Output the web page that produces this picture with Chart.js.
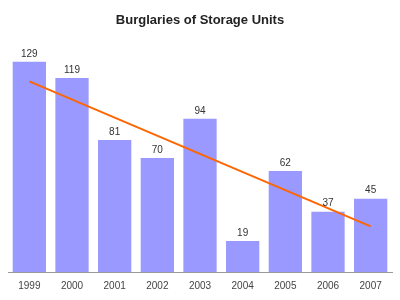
<!DOCTYPE html>
<html>
<head>
<meta charset="utf-8">
<script src="https://cdn.jsdelivr.net/npm/chart.js@4"></script>
<style>
html,body{margin:0;padding:0;background:#fff;}
#wrap{width:400px;height:300px;}
</style>
</head>
<body>
<div id="wrap"><canvas id="c" width="400" height="300"></canvas></div>
<script>
const years = ["1999","2000","2001","2002","2003","2004","2005","2006","2007"];
const burglaries = [129,119,81,70,94,19,62,37,45];
const trend = [117,null,null,null,null,null,null,null,28];

const valueLabels = {
  id:'valueLabels',
  afterDatasetsDraw(chart){
    const ctx = chart.ctx;
    const meta = chart.getDatasetMeta(1);
    ctx.save();
    ctx.font = '10px "Liberation Sans", Arial, sans-serif';
    ctx.fillStyle = '#333';
    ctx.textAlign = 'center';
    ctx.textBaseline = 'bottom';
    meta.data.forEach((bar,i)=>{
      ctx.fillText(String(burglaries[i]), bar.x, bar.y - 3);
    });
    ctx.restore();
  }
};

new Chart(document.getElementById('c'), {
  data:{
    labels: years,
    datasets:[
      {type:'line', label:'Trend', data: trend, borderColor:'#ff6600', borderWidth:2, pointRadius:0, spanGaps:true, fill:false, order:0},
      {type:'bar', label:'Burglaries', data: burglaries, backgroundColor:'#9999ff', borderWidth:0, categoryPercentage:0.78, barPercentage:1.0, order:1}
    ]
  },
  options:{
    responsive:false,
    animation:false,
    layout:{padding:{left:8,right:8,top:4,bottom:8}},
    plugins:{
      legend:{display:false},
      tooltip:{enabled:false},
      title:{display:true, text:'Burglaries of Storage Units', color:'#222', font:{family:'"Liberation Sans", Arial, sans-serif', size:13, weight:'bold'}, padding:{top:9,bottom:12}}
    },
    scales:{
      x:{
        grid:{display:false},
        border:{display:true,color:'#999',width:1},
        ticks:{color:'#444', font:{family:'"Liberation Sans", Arial, sans-serif', size:10}, padding:0, maxRotation:0}
      },
      y:{
        display:false,
        min:0, max:142
      }
    }
  },
  plugins:[valueLabels]
});
</script>
</body>
</html>
